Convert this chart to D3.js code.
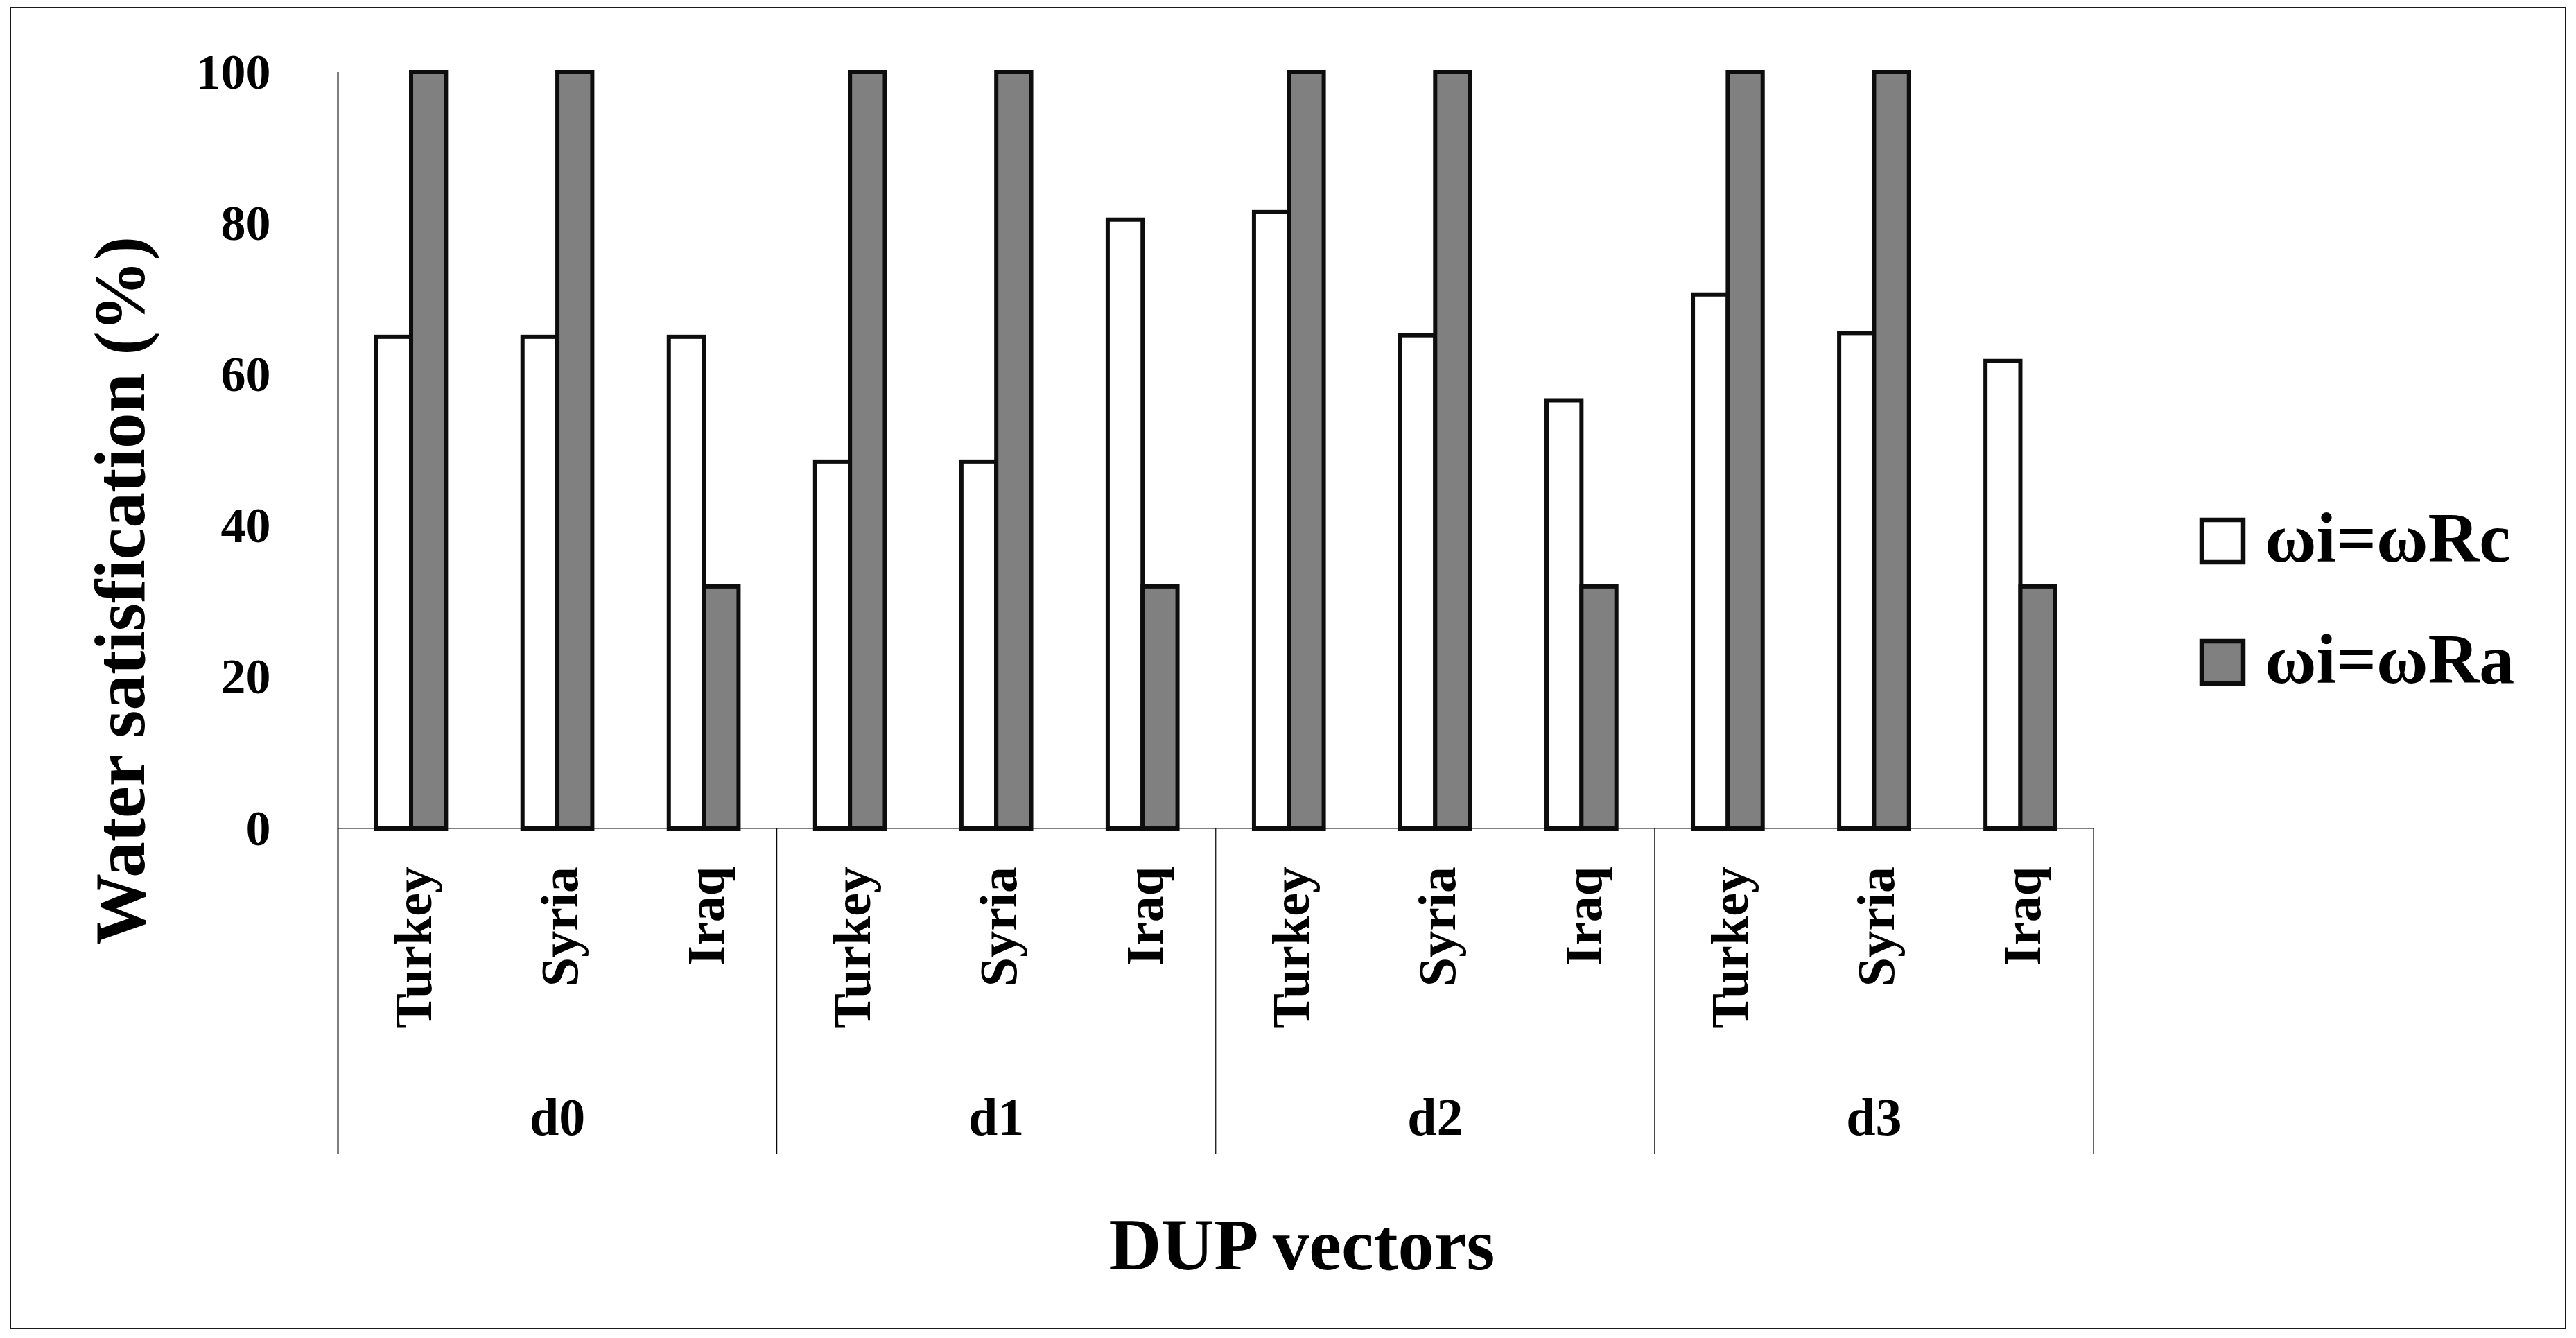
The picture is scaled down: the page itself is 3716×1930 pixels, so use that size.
<!DOCTYPE html>
<html>
<head>
<meta charset="utf-8">
<script src="https://cdn.jsdelivr.net/npm/d3@7"></script>
<style>
  html, body { margin: 0; padding: 0; background: #fff; }
  svg { display: block; }
  text { font-family: "Liberation Serif", "Times New Roman", serif; font-weight: bold; fill: #000; }
</style>
</head>
<body>
<script>
// ---- data ----
const groups = ["d0", "d1", "d2", "d3"];
const countries = ["Turkey", "Syria", "Iraq"];
const seriesNames = ["ωi=ωRc", "ωi=ωRa"];
const rcValues = [65, 65, 65, 48.5, 48.5, 80.5, 81.5, 65.2, 56.6, 70.6, 65.5, 61.8];
const raValues = [100, 100, 32, 100, 100, 32, 100, 100, 32, 100, 100, 32];
const yTicks = [0, 20, 40, 60, 80, 100];
const xTitle = "DUP vectors";
const yTitle = "Water satisfication (%)";

(function () {
const W = 3716, H = 1930;
const plotL = 487.5, plotR = 3020, plotT = 104, zeroY = 1195, sepBottom = 1664;
const fills = ["#ffffff", "#808080"];

const svg = d3.select("body").append("svg").attr("width", W).attr("height", H);

// outer frame
svg.append("rect").attr("x", 15).attr("y", 11).attr("width", 3686).attr("height", 1905)
  .attr("fill", "#fff").attr("stroke", "#1a1a1a").attr("stroke-width", 2);

// rows
const rows = [];
groups.forEach((g, gi) => countries.forEach((c, ci) => {
  const i = gi * countries.length + ci;
  rows.push({ key: g + "|" + c, group: g, country: c, values: [rcValues[i], raValues[i]] });
}));

const x = d3.scaleBand().domain(rows.map(d => d.key)).range([plotL, plotR])
  .paddingInner(0.523).paddingOuter(0.2615);
const xs = d3.scaleBand().domain(seriesNames).range([0, x.bandwidth()]);
const gx = d3.scaleBand().domain(groups).range([plotL, plotR]);
const y = d3.scaleLinear().domain([0, 100]).range([zeroY, plotT]);

// zero line
svg.append("line").attr("x1", plotL).attr("x2", plotR).attr("y1", zeroY).attr("y2", zeroY)
  .attr("stroke", "#000").attr("stroke-width", 1.2);

// group separators (below the axis)
const seps = groups.map(g => gx(g) + gx.bandwidth());
svg.selectAll("line.sep").data(seps).join("line").attr("class", "sep")
  .attr("x1", d => d).attr("x2", d => d).attr("y1", zeroY).attr("y2", sepBottom)
  .attr("stroke", "#000").attr("stroke-width", 1.2);

// y axis
const yAxis = svg.append("g").attr("transform", `translate(${plotL},0)`)
  .call(d3.axisLeft(y).tickValues(yTicks).tickSize(0).tickPadding(97));
yAxis.select(".domain").remove();
yAxis.selectAll("text").style("font-size", "72px").style("font-family", "'Liberation Serif', serif")
  .style("font-weight", "bold").attr("fill", "#000");
svg.append("line").attr("x1", plotL).attr("x2", plotL).attr("y1", plotT).attr("y2", sepBottom)
  .attr("stroke", "#000").attr("stroke-width", 2);

// bars
const cat = svg.append("g").selectAll("g").data(rows).join("g")
  .attr("transform", d => `translate(${x(d.key)},0)`);
cat.selectAll("rect").data(d => d.values.map((v, i) => ({ s: seriesNames[i], v, i })))
  .join("rect")
  .attr("x", d => xs(d.s)).attr("width", xs.bandwidth())
  .attr("y", d => y(d.v)).attr("height", d => y(0) - y(d.v))
  .attr("fill", d => fills[d.i]).attr("stroke", "#0d0d0d").attr("stroke-width", 6);

// category labels
svg.selectAll("text.cat").data(rows).join("text").attr("class", "cat")
  .attr("transform", d => `translate(${x(d.key) + x.bandwidth() / 2 + 29},1250) rotate(-90)`)
  .attr("text-anchor", "end").style("font-size", "76px").text(d => d.country);

// group labels
svg.selectAll("text.grp").data(groups).join("text").attr("class", "grp")
  .attr("x", d => gx(d) + gx.bandwidth() / 2).attr("y", 1637)
  .attr("text-anchor", "middle").style("font-size", "76px").text(d => d);

// axis titles
svg.append("text").attr("x", 1878).attr("y", 1831).attr("text-anchor", "middle")
  .style("font-size", "105px").text(xTitle);
svg.append("text").attr("transform", "translate(208,852) rotate(-90)").attr("text-anchor", "middle")
  .style("font-size", "103px").text(yTitle);

// legend
const leg = svg.append("g").selectAll("g").data(seriesNames).join("g")
  .attr("transform", (d, i) => `translate(3176,${750 + i * 175})`);
leg.append("rect").attr("width", 60).attr("height", 61)
  .attr("fill", (d, i) => fills[i]).attr("stroke", "#0d0d0d").attr("stroke-width", 6.5);
leg.append("text").attr("x", 91).attr("y", 60).style("font-size", "102px").text(d => d);
})();
</script>
</body>
</html>
